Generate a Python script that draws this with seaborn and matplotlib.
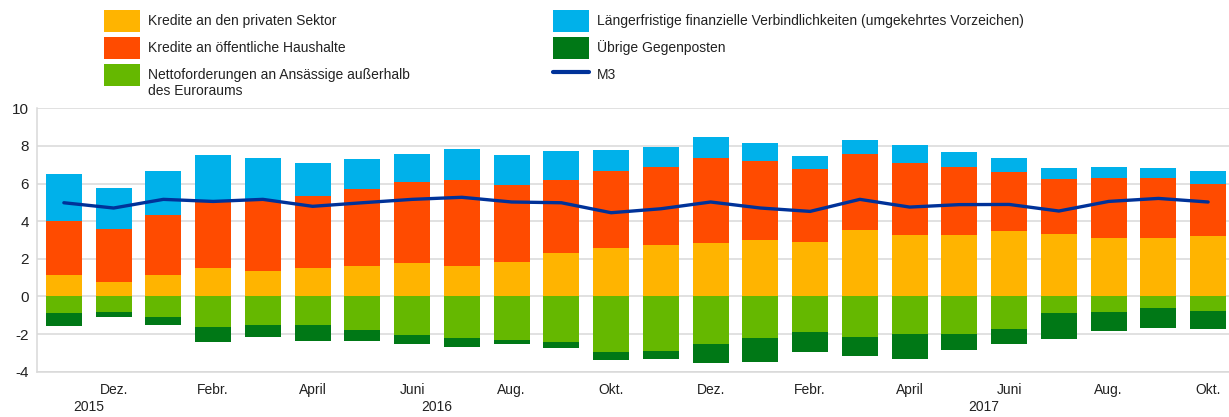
import numpy as np
import pandas as pd
import matplotlib
matplotlib.use("Agg")
import matplotlib.pyplot as plt
import seaborn as sns
from matplotlib.patches import Patch
from matplotlib.lines import Line2D
from matplotlib import transforms

# ---------------- data ----------------
periods = pd.period_range("2015-11", "2017-10", freq="M")
month_names = {1: "Jan.", 2: "Febr.", 3: "März", 4: "April", 5: "Mai", 6: "Juni",
               7: "Juli", 8: "Aug.", 9: "Sept.", 10: "Okt.", 11: "Nov.", 12: "Dez."}

private_credit = [1.12, 0.76, 1.15, 1.51, 1.35, 1.52, 1.63, 1.77, 1.63, 1.84, 2.32, 2.59,
                  2.75, 2.85, 2.98, 2.89, 3.53, 3.26, 3.28, 3.49, 3.33, 3.12, 3.12, 3.19]
public_credit = [2.87, 2.84, 3.16, 3.51, 3.70, 3.82, 4.06, 4.31, 4.54, 4.10, 3.85, 4.06,
                 4.15, 4.51, 4.22, 3.90, 4.02, 3.83, 3.58, 3.11, 2.91, 3.19, 3.19, 2.80]
longer_term = [2.52, 2.16, 2.34, 2.48, 2.29, 1.75, 1.61, 1.51, 1.68, 1.60, 1.54, 1.15,
               1.04, 1.13, 0.97, 0.69, 0.78, 0.94, 0.80, 0.78, 0.59, 0.55, 0.52, 0.69]
net_external = [-0.89, -0.80, -1.10, -1.60, -1.51, -1.54, -1.79, -2.07, -2.20, -2.34, -2.43, -2.96,
                -2.89, -2.55, -2.20, -1.88, -2.18, -1.99, -1.99, -1.74, -0.89, -0.80, -0.59, -0.76]
other_counterparts = [-0.69, -0.30, -0.44, -0.83, -0.67, -0.82, -0.60, -0.45, -0.50, -0.21, -0.32, -0.41,
                      -0.41, -0.98, -1.26, -1.08, -1.01, -1.33, -0.83, -0.78, -1.38, -1.06, -1.08, -0.96]
m3 = [4.98, 4.70, 5.16, 5.05, 5.16, 4.79, 4.98, 5.16, 5.27, 5.02, 4.98, 4.45,
      4.66, 5.02, 4.70, 4.52, 5.16, 4.75, 4.88, 4.89, 4.54, 5.05, 5.21, 5.02]

legend_labels = ["Kredite an den privaten Sektor",
                 "Kredite an öffentliche Haushalte",
                 "Nettoforderungen an Ansässige außerhalb\ndes Euroraums",
                 "Längerfristige finanzielle Verbindlichkeiten (umgekehrtes Vorzeichen)",
                 "Übrige Gegenposten",
                 "M3"]

# ---------------- styling ----------------
C_PRIV, C_PUB, C_NET = "#FFB400", "#FF4B00", "#65B800"
C_LT, C_OTH, C_M3 = "#00B1EA", "#007816", "#003299"
GRID = "#d9d9d9"
TXT = "#222222"
FONT = ["Liberation Sans", "DejaVu Sans"]

sns.set_theme(style="white")
plt.rcParams["font.family"] = FONT

df = pd.DataFrame({
    "month": [str(p) for p in periods],
    "private": private_credit,
    "public": public_credit,
    "longer": longer_term,
    "net": net_external,
    "other": other_counterparts,
    "m3": m3,
})
df["lvl_priv"] = df["private"]
df["lvl_pub"] = df["private"] + df["public"]
df["lvl_lt"] = df["lvl_pub"] + df["longer"]
df["lvl_net"] = df["net"]
df["lvl_oth"] = df["net"] + df["other"]

fig = plt.figure(figsize=(12.29, 4.17), dpi=100)
ax = fig.add_axes([37 / 1229, 0.1086, 1 - 37 / 1229, 0.6317])

W = 0.72
order = list(df["month"])
for col, c in [("lvl_lt", C_LT), ("lvl_pub", C_PUB), ("lvl_priv", C_PRIV),
               ("lvl_oth", C_OTH), ("lvl_net", C_NET)]:
    sns.barplot(data=df, x="month", y=col, order=order, color=c, saturation=1,
                width=W, errorbar=None, linewidth=0, ax=ax, zorder=2)

idx = np.arange(len(df))
sns.lineplot(x=idx, y=df["m3"].values, color=C_M3, linewidth=2.4, ax=ax,
             zorder=4, legend=False)

ax.set_xlim(-0.54, 23.42)
ax.set_ylim(-4, 10)
ax.set_yticks(np.arange(-4, 11, 2))
ax.set_yticklabels([str(v) for v in range(-4, 11, 2)], fontsize=11, color=TXT)
ax.yaxis.grid(True, color=GRID, linewidth=1.1, zorder=0)
ax.xaxis.grid(False)
ax.set_axisbelow(True)
for s in ["top", "right"]:
    ax.spines[s].set_visible(False)
for s in ["left", "bottom"]:
    ax.spines[s].set_color(GRID)
    ax.spines[s].set_linewidth(1.1)
ax.tick_params(axis="both", length=0, pad=6)
ax.set_xlabel("")
ax.set_ylabel("")

tick_pos = [i for i, p in enumerate(periods) if p.month % 2 == 0]
tick_lab = [month_names[periods[i].month] for i in tick_pos]
ax.set_xticks(tick_pos)
ax.set_xticklabels(tick_lab, fontsize=10, color=TXT)
ax.tick_params(axis="x", pad=8)

trans = transforms.blended_transform_factory(ax.transData, ax.transAxes)
years = sorted(set(p.year for p in periods))
for y in years:
    pos = [i for i, p in enumerate(periods) if p.year == y]
    ax.text(np.mean(pos), -0.108, str(y), transform=trans, ha="center", va="top",
            fontsize=10, color=TXT)

# ---------------- legend ----------------
h1 = [Patch(facecolor=C_PRIV, edgecolor="none"),
      Patch(facecolor=C_PUB, edgecolor="none"),
      Patch(facecolor=C_NET, edgecolor="none")]
h2 = [Patch(facecolor=C_LT, edgecolor="none"),
      Patch(facecolor=C_OTH, edgecolor="none"),
      Line2D([], [], color=C_M3, linewidth=3)]
first_lines = [lab.split("\n")[0] for lab in legend_labels]
common = dict(loc="upper left", frameon=False, fontsize=10, handlelength=2.6,
              handleheight=2.06, handletextpad=0.58, labelspacing=0.36,
              borderpad=0, borderaxespad=0)
leg1 = fig.legend(h1, first_lines[:3], bbox_to_anchor=(104 / 1229, 1 - 10 / 417), **common)
leg2 = fig.legend(h2, first_lines[3:], bbox_to_anchor=(553 / 1229, 1 - 10 / 417), **common)
for leg in (leg1, leg2):
    for t in leg.get_texts():
        t.set_color(TXT)

# continuation line of the wrapped legend label
fig.canvas.draw()
for leg, labs in ((leg1, legend_labels[:3]), (leg2, legend_labels[3:])):
    for t, lab in zip(leg.get_texts(), labs):
        extra = lab.split("\n")[1:]
        if extra:
            bb = t.get_window_extent()
            fig.text(bb.x0 / fig.bbox.width, (bb.y0 - 2) / fig.bbox.height,
                     "\n".join(extra), ha="left", va="top", fontsize=10, color=TXT)

fig.savefig("out.png", dpi=100)
